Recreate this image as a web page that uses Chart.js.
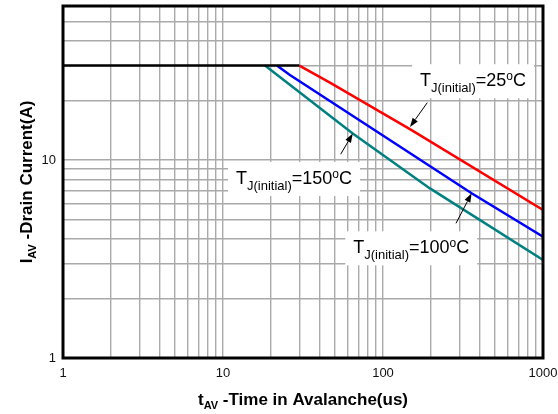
<!DOCTYPE html>
<html>
<head>
<meta charset="utf-8">
<script src="https://cdn.jsdelivr.net/npm/chart.js@4.4.1/dist/chart.umd.min.js"></script>
<style>
    html, body { margin: 0; padding: 0; background: #fff; }
    #wrap { width: 558px; height: 414px; }
</style>
</head>
<body>
<div id="wrap"><canvas id="avalancheChart" width="558" height="414"></canvas></div>
<script>
// avalanche current limit (flat part)
const tLimit = [1, 30];
const iLimit = [30, 30];

// Tj(initial) = 25 C  (red)
const t25 = [30, 46.6, 150, 1000];
const i25 = [30, 24.6, 14.2, 5.6];

// Tj(initial) = 100 C  (blue)
const t100 = [21.7, 26.2, 358, 1000];
const i100 = [30, 26.9, 6.8, 4.1];

// Tj(initial) = 150 C  (teal)
const t150 = [18.3, 64.7, 196.6, 1000];
const i150 = [30, 13.6, 7.19, 3.13];

// grid lines and labelled ticks
const xGrid = [1, 2, 3, 4, 5, 6, 7, 8, 9, 10, 20, 30, 40, 50, 60, 70, 80, 90, 100,
               200, 300, 400, 500, 600, 700, 800, 900, 1000];
const xLabels = [1, 10, 100, 1000];
const yGrid = [1, 2, 3, 4, 5, 6, 7, 8, 9, 10, 20, 30, 40, 50, 60];
const yLabels = [1, 10];

// callouts: temperature, where the text starts (t, I), arrow tail and tip (t, I)
const noteTemps = ['25', '150', '100'];
const noteAt = [[170.4, 23.6], [12.06, 7.57], [65.2, 3.38]];
const arrowFrom = [[189.2, 19.5], [54.4, 10.7], [285.9, 4.79]];
const arrowTo = [[147.5, 14.7], [64.7, 13.6], [358, 6.79]];

const FONT = "'Liberation Sans', Arial, Helvetica, sans-serif";

function pts(xs, ys) {
    return xs.map((x, i) => ({ x: x, y: ys[i] }));
}

// draw a run of text pieces (normal / sub / sup)
function drawParts(ctx, parts, x, y, align) {
    let total = 0;
    parts.forEach(p => {
        ctx.font = p.font;
        p.w = ctx.measureText(p.text).width;
        total += p.w;
    });
    let cx = align === 'center' ? x - total / 2 : x;
    parts.forEach(p => {
        ctx.font = p.font;
        ctx.fillText(p.text, cx, y + (p.dy || 0));
        cx += p.w;
    });
    return total;
}

function noteParts(temp) {
    return [
        { text: 'T', font: '18px ' + FONT },
        { text: 'J(initial)', font: '13px ' + FONT, dy: 6 },
        { text: '=' + temp, font: '18px ' + FONT },
        { text: 'o', font: '12px ' + FONT, dy: -6 },
        { text: 'C', font: '18px ' + FONT }
    ];
}

const notesPlugin = {
    id: 'notes',
    afterDatasetsDraw(chart) {
        const { ctx, scales: { x, y } } = chart;
        ctx.save();
        ctx.textBaseline = 'alphabetic';
        noteTemps.forEach((temp, k) => {
            const px = x.getPixelForValue(noteAt[k][0]);
            const py = y.getPixelForValue(noteAt[k][1]);
            const parts = noteParts(temp);
            // measure first
            let w = 0;
            parts.forEach(p => { ctx.font = p.font; w += ctx.measureText(p.text).width; });
            ctx.fillStyle = '#fff';
            ctx.fillRect(px - 8, py - 22, w + 16, 34);
            ctx.fillStyle = '#000';
            drawParts(ctx, parts, px, py, 'left');

            // arrow
            const x0 = x.getPixelForValue(arrowFrom[k][0]);
            const y0 = y.getPixelForValue(arrowFrom[k][1]);
            const x1 = x.getPixelForValue(arrowTo[k][0]);
            const y1 = y.getPixelForValue(arrowTo[k][1]);
            const ang = Math.atan2(y1 - y0, x1 - x0);
            const hl = 9, hw = 3.2;
            ctx.strokeStyle = '#000';
            ctx.lineWidth = 1;
            ctx.beginPath();
            ctx.moveTo(x0, y0);
            ctx.lineTo(x1 - hl * Math.cos(ang), y1 - hl * Math.sin(ang));
            ctx.stroke();
            ctx.beginPath();
            ctx.moveTo(x1, y1);
            ctx.lineTo(x1 - hl * Math.cos(ang) + hw * Math.sin(ang), y1 - hl * Math.sin(ang) - hw * Math.cos(ang));
            ctx.lineTo(x1 - hl * Math.cos(ang) - hw * Math.sin(ang), y1 - hl * Math.sin(ang) + hw * Math.cos(ang));
            ctx.closePath();
            ctx.fillStyle = '#000';
            ctx.fill();
        });
        ctx.restore();
    },
    afterDraw(chart) {
        const { ctx, chartArea: a } = chart;
        ctx.save();
        // frame
        ctx.strokeStyle = '#000';
        ctx.lineWidth = 3;
        ctx.strokeRect(a.left, a.top, a.right - a.left, a.bottom - a.top);

        // axis titles with subscripts
        ctx.fillStyle = '#000';
        ctx.textBaseline = 'alphabetic';
        drawParts(ctx, [
            { text: 't', font: 'bold 17px ' + FONT },
            { text: 'AV', font: 'bold 11px ' + FONT, dy: 4 },
            { text: ' -Time in Avalanche(us)', font: 'bold 17px ' + FONT }
        ], (a.left + a.right) / 2, 405, 'center');

        ctx.translate(32, (a.top + a.bottom) / 2);
        ctx.rotate(-Math.PI / 2);
        drawParts(ctx, [
            { text: 'I', font: 'bold 17px ' + FONT },
            { text: 'AV', font: 'bold 11px ' + FONT, dy: 4 },
            { text: ' -Drain Current(A)', font: 'bold 17px ' + FONT }
        ], 0, 0, 'center');
        ctx.restore();
    }
};

const ctx = document.getElementById('avalancheChart').getContext('2d');

new Chart(ctx, {
    type: 'line',
    data: {
        datasets: [
            { label: 'limit', data: pts(tLimit, iLimit), borderColor: '#000000' },
            { label: 'Tj=25', data: pts(t25, i25), borderColor: '#ff0000' },
            { label: 'Tj=100', data: pts(t100, i100), borderColor: '#0000ff' },
            { label: 'Tj=150', data: pts(t150, i150), borderColor: '#008080' }
        ]
    },
    options: {
        responsive: false,
        animation: false,
        layout: { padding: { left: 0, top: 6, right: 15, bottom: 0 } },
        plugins: {
            legend: { display: false },
            tooltip: { enabled: false }
        },
        elements: {
            point: { radius: 0 },
            line: { borderWidth: 2.5, tension: 0, fill: false }
        },
        scales: {
            x: {
                type: 'logarithmic',
                min: 1,
                max: 1000,
                afterBuildTicks: ax => { ax.ticks = xGrid.map(v => ({ value: v })); },
                afterFit: ax => { ax.height = 56; ax.paddingLeft = 0; ax.paddingRight = 0; },
                grid: { color: '#aaaaaa', lineWidth: 1.4, drawTicks: false },
                border: { display: false },
                ticks: {
                    autoSkip: false,
                    maxRotation: 0,
                    padding: 8,
                    color: '#111',
                    font: { family: FONT, size: 13 },
                    callback: v => xLabels.includes(v) ? String(v) : ''
                }
            },
            y: {
                type: 'logarithmic',
                min: 1,
                max: 60,
                afterBuildTicks: ax => { ax.ticks = yGrid.map(v => ({ value: v })); },
                afterFit: ax => { ax.width = 63; ax.paddingTop = 0; ax.paddingBottom = 0; },
                grid: { color: '#aaaaaa', lineWidth: 1.4, drawTicks: false },
                border: { display: false },
                ticks: {
                    autoSkip: false,
                    padding: 7,
                    color: '#111',
                    font: { family: FONT, size: 13 },
                    callback: v => yLabels.includes(v) ? String(v) : ''
                }
            }
        }
    },
    plugins: [notesPlugin]
});
</script>
</body>
</html>
